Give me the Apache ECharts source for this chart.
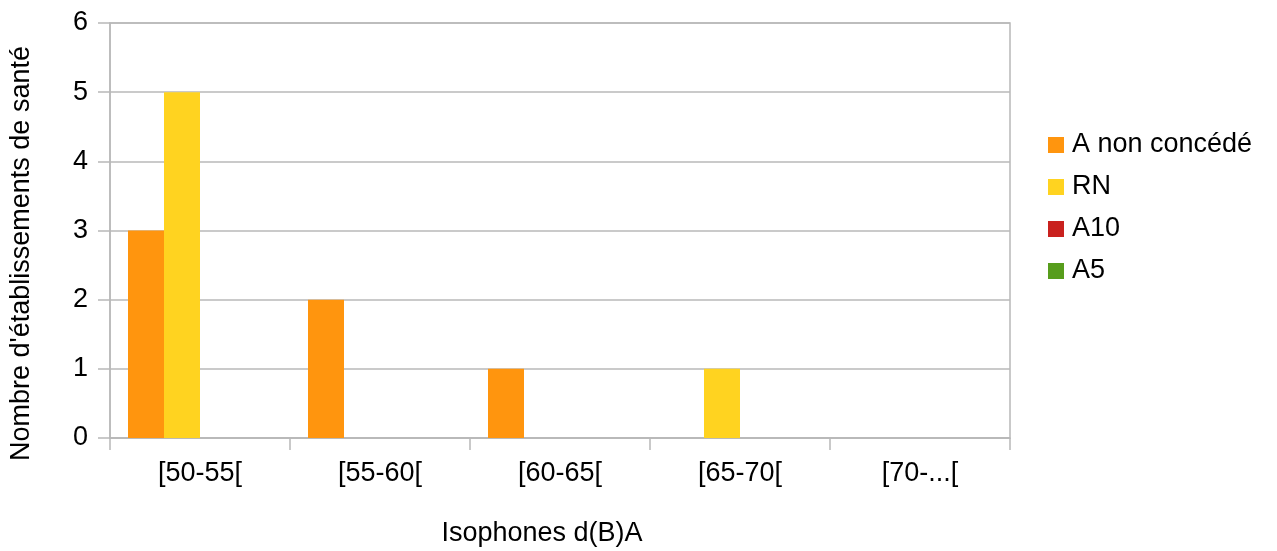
<!DOCTYPE html>
<html>
<head>
<meta charset="utf-8">
<script src="https://cdn.jsdelivr.net/npm/echarts@6/dist/echarts.min.js"></script>
<style>
  html, body { margin: 0; padding: 0; background: #fff; }
  #chart { width: 1277px; height: 551px; }
</style>
</head>
<body>
<div id="chart"></div>
<script>
const categories = ['[50-55[', '[55-60[', '[60-65[', '[65-70[', '[70-...[']
const aNonConcede = [3, 2, 1, 0, 0]
const rn = [5, 0, 0, 1, 0]
const a10 = [0, 0, 0, 0, 0]
const a5 = [0, 0, 0, 0, 0]

const seriesNames = ['A non concédé', 'RN', 'A10', 'A5']
const seriesData = [aNonConcede, rn, a10, a5]
const colors = ['#ff950e', '#ffd320', '#c9211e', '#579d1c']

const font = '"Liberation Sans", Arial, sans-serif'
const grey = '#b8b8b8'
const lineW = 1.5
const textColor = '#000'

const chart = echarts.init(document.getElementById('chart'))

chart.setOption({
  animation: false,
  textStyle: { fontFamily: font },
  grid: {
    left: 110, right: 267, top: 23, bottom: 113,
    outerBoundsMode: 'none',
    containLabel: false,
    show: true, borderColor: grey, borderWidth: lineW, backgroundColor: 'transparent'
  },
  legend: {
    orient: 'vertical',
    left: 1043,
    top: 125,
    itemWidth: 16,
    itemHeight: 16,
    itemGap: 12,
    icon: 'rect',
    textStyle: { fontFamily: font, fontSize: 27, color: textColor, lineHeight: 30, padding: [0, 0, 0, 3] },
    data: seriesNames
  },
  xAxis: {
    type: 'category',
    data: categories,
    name: 'Isophones d(B)A',
    nameLocation: 'middle',
    nameGap: 82,
    nameTextStyle: { fontFamily: font, fontSize: 27, color: textColor, padding: [0, 36, 0, 0] },
    axisLine: { lineStyle: { color: grey, width: lineW } },
    axisTick: { show: true, length: 12, lineStyle: { color: grey, width: lineW } },
    axisLabel: { fontFamily: font, fontSize: 27, color: textColor, margin: 22 },
    splitLine: { show: false }
  },
  yAxis: {
    type: 'value',
    min: 0,
    max: 6,
    interval: 1,
    name: "Nombre d'établissements de santé",
    nameLocation: 'middle',
    nameGap: 75,
    nameTextStyle: { fontFamily: font, fontSize: 27, color: textColor, padding: [0, 46, 0, 0] },
    axisLine: { show: true, lineStyle: { color: grey, width: lineW } },
    axisTick: { show: true, inside: false, length: 12, lineStyle: { color: grey, width: lineW } },
    axisLabel: { fontFamily: font, fontSize: 27, color: textColor, margin: 22 },
    splitLine: { show: true, lineStyle: { color: grey, width: lineW } }
  },
  series: seriesNames.map((name, i) => ({
    name,
    type: 'bar',
    data: seriesData[i],
    itemStyle: { color: colors[i] },
    barGap: '0%',
    barCategoryGap: '20%'
  }))
})
</script>
</body>
</html>
